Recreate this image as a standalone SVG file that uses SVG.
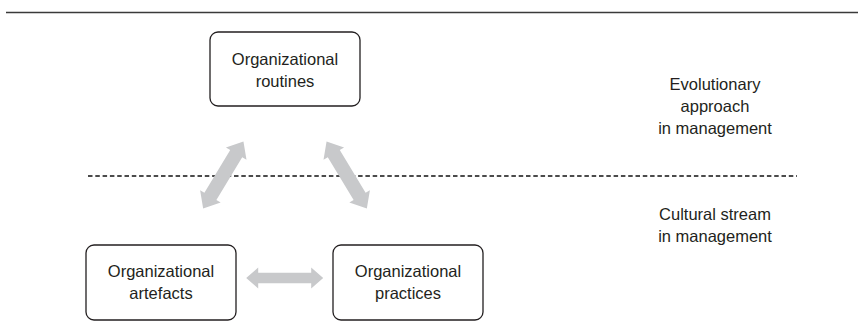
<svg xmlns="http://www.w3.org/2000/svg" width="858" height="331" viewBox="0 0 858 331">
  <style>
    .box { fill: #ffffff; stroke: #231f20; stroke-width: 1.3; }
    .lbl { font-family: "Liberation Sans", Arial, sans-serif; font-size: 16.5px; fill: #231f20; text-anchor: middle; }
    .arrow { fill: #c8c9cb; }
  </style>
  <defs>
    <!-- double-headed block arrows, centred on the origin, pointing along x -->
    <path id="dbl-h" class="arrow" d="M-38.5,0 L-26.5,-10.5 L-26.5,-5.3 L26.5,-5.3 L26.5,-10.5 L38.5,0 L26.5,10.5 L26.5,5.3 L-26.5,5.3 L-26.5,10.5 Z"/>
    <path id="dbl-d" class="arrow" d="M-39,0 L-25,-12 L-25,-7 L25,-7 L25,-12 L39,0 L25,12 L25,7 L-25,7 L-25,12 Z"/>
  </defs>

  <rect width="858" height="331" fill="#ffffff"/>

  <!-- rule at top -->
  <line x1="6" y1="12.5" x2="858" y2="12.5" stroke="#3a3a3a" stroke-width="1.4"/>

  <!-- divider between the two streams -->
  <line x1="88" y1="176" x2="797" y2="176" stroke="#111111" stroke-width="1.4" stroke-dasharray="4.5 2.8"/>

  <g id="connectors">
    <use href="#dbl-d" transform="translate(223.3,175) rotate(-58.9)"/>
    <use href="#dbl-d" transform="translate(346.7,175) rotate(58.9)"/>
    <use href="#dbl-h" transform="translate(284.7,278)"/>
  </g>

  <g id="routines">
    <rect class="box" x="210" y="32" width="150" height="74" rx="8"/>
    <text class="lbl" x="285" y="64.5">Organizational</text>
    <text class="lbl" x="285" y="87">routines</text>
  </g>

  <g id="artefacts">
    <rect class="box" x="86" y="245" width="150" height="75" rx="8"/>
    <text class="lbl" x="161" y="277">Organizational</text>
    <text class="lbl" x="161" y="299">artefacts</text>
  </g>

  <g id="practices">
    <rect class="box" x="333" y="245" width="150" height="75" rx="8"/>
    <text class="lbl" x="408" y="277">Organizational</text>
    <text class="lbl" x="408" y="299">practices</text>
  </g>

  <g id="evolutionary">
    <text class="lbl" x="715" y="90">Evolutionary</text>
    <text class="lbl" x="715" y="112">approach</text>
    <text class="lbl" x="715" y="134">in management</text>
  </g>

  <g id="cultural">
    <text class="lbl" x="715" y="220">Cultural stream</text>
    <text class="lbl" x="715" y="242">in management</text>
  </g>
</svg>
